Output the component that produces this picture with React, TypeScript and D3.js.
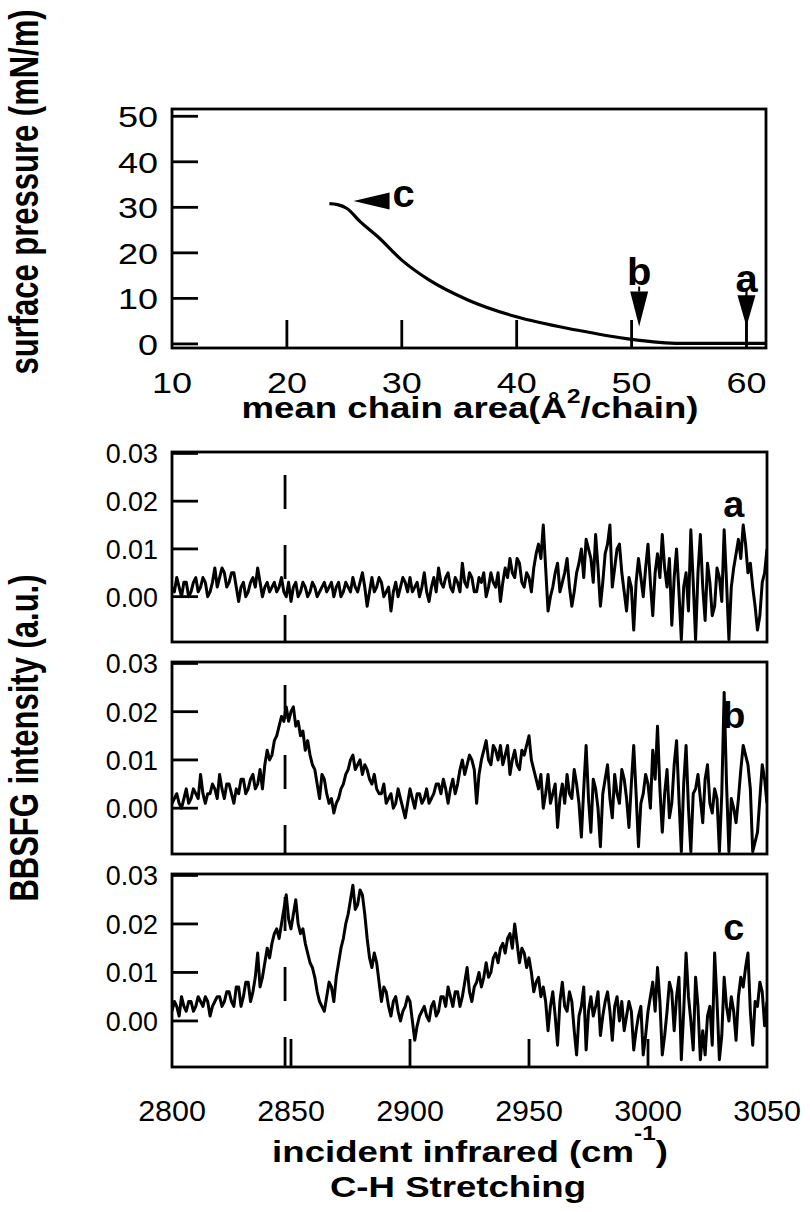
import React from "react";
import * as d3 from "d3";

const W = 810;
const H = 1212;
const FONT = "'Liberation Sans', Arial, Helvetica, sans-serif";

// ---- Top panel: surface pressure isotherm ----
const isoArea = [23.7, 24.4, 25.2, 26.4, 27.9, 30.0, 32.4, 35.8, 39.9, 45.2, 50.0, 52.4, 54.2, 58.0, 61.7];
const isoPressure = [30.8, 30.6, 29.8, 26.8, 23.6, 18.4, 14.0, 9.6, 6.0, 3.05, 1.0, 0.35, 0.13, 0.1, 0.1];
const isoXTicks = [10, 20, 30, 40, 50, 60];
const isoYTicks = [0, 10, 20, 30, 40, 50];

// ---- Spectra (BBSFG intensity, in units of 0.001 a.u.), 2800..3050 cm-1 every 1 cm-1 ----
const WN_START = 2800;
const WN_STEP = 1;
const spectrumA = [
  2, 1, 4, 2, 0, 3, 3, 0, 1, 3, 4, 1, 2, 4, 3, 0, 1, 3, 6, 2,
  4, 6, 5, 2, 3, 5, 5, 2, -1, 2, 3, 0, 1, 3, 4, 2, 6, 3, 0, 2,
  3, 1, 2, 3, 1, 2, 4, 1, 0, 3, -1, 2, 3, 0, 1, 3, 2, 0, 1, 3,
  2, 0, 1, 2, 3, 1, 2, 3, 0, 2, 3, 0, 1, 3, 2, 1, 4, 2, 1, 3,
  5, 2, -2, 1, 4, 1, 2, 4, 3, 0, 1, 2, -3, 1, 3, 0, 2, 4, 3, 1,
  4, 1, 2, 3, 0, 2, 5, 1, -1, 2, 4, 1, 6, 3, 2, 4, 5, 2, 1, 4,
  3, 1, 7, 3, 2, 5, 4, 1, 1, 4, 3, 5, 0, 2, 5, 3, 2, 5, -1, 3,
  6, 4, 8, 5, 4, 8, 7, 3, 2, 5, 4, 1, 6, 9, 11, 8, 15, 6, -3, 0,
  2, 5, 7, 1, 3, 5, 8, 2, -2, 1, 5, 7, 10, 4, 12, 10, 8, 3, 13, 6,
  -2, 3, 9, 11, 15, 2, 6, 10, 11, 5, 1, -3, 4, 2, -7, 3, 8, 4, 0, 6,
  11, 3, -4, 5, 9, 4, 13, 6, 2, 8, -6, 4, 10, 1, -9, 2, 5, -3, 14, 3,
  -9, 5, 13, 2, -5, 7, 3, -4, -2, 6, 4, -1, 14, 3, -9, 2, 6, 9, 12, 8,
  15, 11, 5, 7, 2, -2, -7, -4, 3, 5, 10,
];
const spectrumB = [
  1, 2, 3, 1, 0, 2, 4, 1, 2, 4, 3, 2, 7, 3, 1, 3, 3, 5, 4, 2,
  7, 4, 2, 5, 5, 3, 1, 4, 3, 6, 6, 3, 4, 6, 7, 4, 5, 8, 4, 9,
  12, 10, 11, 14, 15, 17, 19, 18, 21, 18, 20, 21, 17, 18, 15, 16, 12, 14, 11, 9,
  8, 5, 2, 7, 6, 3, 1, 2, -1, 1, 2, 4, 5, 7, 8, 10, 11, 8, 9, 10,
  7, 9, 8, 6, 5, 7, 4, 3, 3, 5, 1, 2, 3, 0, 1, 4, 2, 0, -2, 1,
  4, 2, 0, 3, 3, 1, 2, 4, 1, 2, 3, 5, 5, 3, 6, 4, 1, 4, 6, 3,
  5, 8, 10, 7, 9, 11, 10, 8, 1, 7, 10, 12, 14, 10, 9, 13, 12, 10, 13, 9,
  11, 13, 7, 10, 12, 9, 8, 12, 11, 13, 15, 10, 8, 6, 4, 7, 0, 3, 7, 1,
  3, 5, -4, 2, 5, 1, 7, 3, 2, 8, 5, 1, -6, 4, 13, 2, -5, 6, 4, 0,
  -8, 3, 6, 9, 2, -2, 7, 3, 1, 8, 6, 2, -4, 5, 13, 3, -8, 1, 3, 7,
  5, 0, 12, 6, 17, 4, -5, 3, 8, -2, 1, 9, 14, 2, -9, 5, 13, 0, -9, 3,
  4, 7, 2, -3, 6, 9, 1, -1, 4, 2, -9, 3, 24, 5, -9, 2, 0, -3, 2, 8,
  13, 11, 9, 4, -9, -7, -5, 2, 9, 6, 1,
];
const spectrumC = [
  2, 4, 3, 1, 5, 3, 2, 4, 4, 2, 3, 5, 4, 3, 5, 4, 1, 3, 4, 5,
  5, 3, 4, 6, 6, 4, 3, 7, 7, 3, 5, 8, 8, 4, 6, 9, 14, 7, 9, 12,
  15, 13, 16, 18, 19, 17, 20, 23, 26, 21, 19, 22, 25, 20, 18, 19, 16, 14, 12, 11,
  9, 6, 4, 3, 2, 5, 8, 7, 4, 9, 12, 15, 17, 20, 22, 25, 28, 23, 24, 27,
  26, 22, 17, 13, 11, 14, 12, 8, 4, 7, 6, 3, 1, 4, 5, 2, 0, 2, 3, 5,
  4, 0, -4, -1, 1, 2, 3, 1, 0, 3, 4, 1, 2, 5, 5, 3, 7, 5, 3, 6,
  6, 3, 5, 8, 11, 6, 4, 7, 8, 10, 7, 9, 12, 9, 10, 13, 14, 12, 15, 16,
  14, 17, 18, 15, 20, 16, 12, 15, 14, 11, 13, 10, 6, 8, 9, 5, 7, 4, -2, 3,
  6, 1, -5, 4, 8, 3, 2, 6, 4, -2, -7, 1, 3, 7, -6, 2, 5, 1, 3, 6,
  -3, 1, 4, 6, 2, -4, 3, 5, 0, 4, -2, 1, 4, 2, -6, -2, 1, 3, -7, -3,
  2, 5, 8, 2, 11, 4, -7, -3, 2, 8, 6, -2, 5, 9, -8, 2, 14, 5, 0, -6,
  9, 3, -8, -2, -7, 1, 3, -5, 14, 4, -8, -3, 9, 3, 0, 5, 2, -4, 5, 9,
  7, 11, 14, 2, -5, 4, 3, 8, 6, -1, 4,
];
const specXTicks = [2800, 2850, 2900, 2950, 3000, 3050];
const specYTicks = [0, 10, 20, 30];
const specBottomTicks = [2850, 2900, 2950, 3000];
const DASH_WN = 2847.5;
const panelNames = ["a", "b", "c"];

// ---- layout ----
const PL = 172;
const PR = 767;
const topBox = { top: 109, bottom: 348 };
const specBoxes = [
  { top: 452, bottom: 642 },
  { top: 662, bottom: 854 },
  { top: 874, bottom: 1067 },
];

function T(props: any) {
  const { x, y, children, size = 28, bold = false, anchor = "middle", sx = 1, sy = 1, rotate = 0 } = props;
  return (
    <text
      transform={`translate(${x},${y}) rotate(${rotate}) scale(${sx},${sy})`}
      fontFamily={FONT}
      fontSize={size}
      fontWeight={bold ? "bold" : "normal"}
      textAnchor={anchor}
      fill="#000"
    >
      {children}
    </text>
  );
}

export default function App() {
  const xIso = d3.scaleLinear().domain([10, 61.7]).range([PL, 766]);
  const yIso = d3.scaleLinear().domain([-0.9, 51.6]).range([topBox.bottom, topBox.top]);
  const isoLine = d3
    .line<number>()
    .x((d, i) => xIso(isoArea[i]))
    .y((d) => yIso(d))
    .curve(d3.curveMonotoneX);

  const xSpec = d3.scaleLinear().domain([2800, 3050]).range([PL, PR]);
  const spectra = [spectrumA, spectrumB, spectrumC];

  const TICK = 26;
  const SW = 2.8;

  // arrows (top panel)
  const cTipX = xIso(25.8), cTipY = yIso(31.4);
  const bX = xIso(50.66), aX = xIso(60);
  const tipY = yIso(3.8);
  const bBase = yIso(11.5), aBase = yIso(10.7);

  return (
    <svg width={W} height={H} style={{ position: "absolute", left: 0, top: 0, background: "#fff" }}>
      <rect x={0} y={0} width={W} height={H} fill="#fff" />
      <defs>
        <clipPath id="clipTop">
          <rect x={PL} y={topBox.top} width={766 - PL} height={topBox.bottom - topBox.top} />
        </clipPath>
        {specBoxes.map((b, i) => (
          <clipPath id={`clipS${i}`} key={i}>
            <rect x={PL} y={b.top} width={PR - PL} height={b.bottom - b.top} />
          </clipPath>
        ))}
      </defs>

      {/* ===== top panel ===== */}
      <g>
        {isoYTicks.map((t) => (
          <g key={t}>
            <line x1={PL} x2={PL + TICK} y1={yIso(t)} y2={yIso(t)} stroke="#000" strokeWidth={SW} />
            <T x={158} y={yIso(t) + 11} size={30} anchor="end" sx={1.2}>{t}</T>
          </g>
        ))}
        {isoXTicks.map((t) => (
          <g key={t}>
            {t > 10 && (
              <line x1={xIso(t)} x2={xIso(t)} y1={topBox.bottom} y2={topBox.bottom - TICK - 2} stroke="#000" strokeWidth={SW} />
            )}
            <T x={xIso(t)} y={393} size={30} sx={1.2}>{t}</T>
          </g>
        ))}
        <path
          d={isoLine(isoPressure) || ""}
          fill="none"
          stroke="#000"
          strokeWidth={3.2}
          clipPath="url(#clipTop)"
        />
        <rect x={PL} y={topBox.top} width={766 - PL} height={topBox.bottom - topBox.top} fill="none" stroke="#000" strokeWidth={SW} />

        {/* arrow c */}
        <path d={`M${cTipX},${cTipY} L${cTipX + 36},${cTipY - 8.5} L${cTipX + 36},${cTipY + 8.5} Z`} fill="#000" />
        <T x={xIso(29.2)} y={yIso(30.1)} size={38} bold anchor="start" sx={1.05}>c</T>
        {/* arrow b */}
        <line x1={bX} x2={bX} y1={yIso(12.6)} y2={bBase} stroke="#000" strokeWidth={2} />
        <path d={`M${bX - 9},${bBase} L${bX + 9},${bBase} L${bX},${tipY} Z`} fill="#000" />
        <T x={bX} y={yIso(12.9)} size={38} bold sx={1.05}>b</T>
        {/* arrow a */}
        <line x1={aX} x2={aX} y1={yIso(12.3)} y2={topBox.bottom} stroke="#000" strokeWidth={2.2} />
        <path d={`M${aX - 9},${aBase} L${aX + 9},${aBase} L${aX},${tipY} Z`} fill="#000" />
        <T x={aX} y={yIso(11.4)} size={38} bold sx={1.05}>a</T>

        <T x={470} y={418} size={30} bold sx={1.22}>
          <tspan>mean chain area(Å</tspan>
          <tspan dy={-15} fontSize={20}>2</tspan>
          <tspan dy={15}>/chain)</tspan>
        </T>
        <T x={38} y={192} size={31} bold rotate={-90} sy={1.3}>surface pressure (mN/m)</T>
      </g>

      {/* ===== spectra panels ===== */}
      {specBoxes.map((box, pi) => {
        const y = d3.scaleLinear().domain([-9.5, 30.3]).range([box.bottom, box.top]);
        const line = d3
          .line<number>()
          .x((d, i) => xSpec(WN_START + i * WN_STEP))
          .y((d) => y(d));
        return (
          <g key={pi}>
            {specYTicks.map((t) => (
              <g key={t}>
                <line x1={PL} x2={PL + TICK} y1={y(t)} y2={y(t)} stroke="#000" strokeWidth={SW} />
                <T x={158} y={y(t) + 10} size={28} anchor="end" sx={0.96}>{(t / 1000).toFixed(2)}</T>
              </g>
            ))}
            {pi === 2 &&
              specBottomTicks.map((t) => (
                <line key={t} x1={xSpec(t)} x2={xSpec(t)} y1={box.bottom} y2={box.bottom - TICK - 2} stroke="#000" strokeWidth={SW} />
              ))}
            <line
              x1={xSpec(DASH_WN)}
              x2={xSpec(DASH_WN)}
              y1={box.top}
              y2={box.bottom}
              stroke="#000"
              strokeWidth={2.8}
              strokeDasharray="34,36"
              strokeDashoffset={47}
            />
            <path
              d={line(spectra[pi]) || ""}
              fill="none"
              stroke="#000"
              strokeWidth={3}
              strokeLinejoin="round"
              clipPath={`url(#clipS${pi})`}
            />
            <rect x={PL} y={box.top} width={PR - PL} height={box.bottom - box.top} fill="none" stroke="#000" strokeWidth={SW} />
            <T x={xSpec(3036)} y={y(16.6)} size={36} bold sx={1.05}>{panelNames[pi]}</T>
          </g>
        );
      })}

      {specXTicks.map((t) => (
        <T key={t} x={xSpec(t)} y={1121} size={29} sx={1.05}>{t}</T>
      ))}
      <T x={470} y={1162} size={30} bold sx={1.22}>
        <tspan>incident infrared (cm</tspan>
        <tspan dy={-22} fontSize={20}>-1</tspan>
        <tspan dy={22}>)</tspan>
      </T>
      <T x={458} y={1197} size={30} bold sx={1.22}>C-H Stretching</T>
      <T x={38} y={738} size={31} bold rotate={-90} sy={1.3}>BBSFG intensity (a.u.)</T>
    </svg>
  );
}
